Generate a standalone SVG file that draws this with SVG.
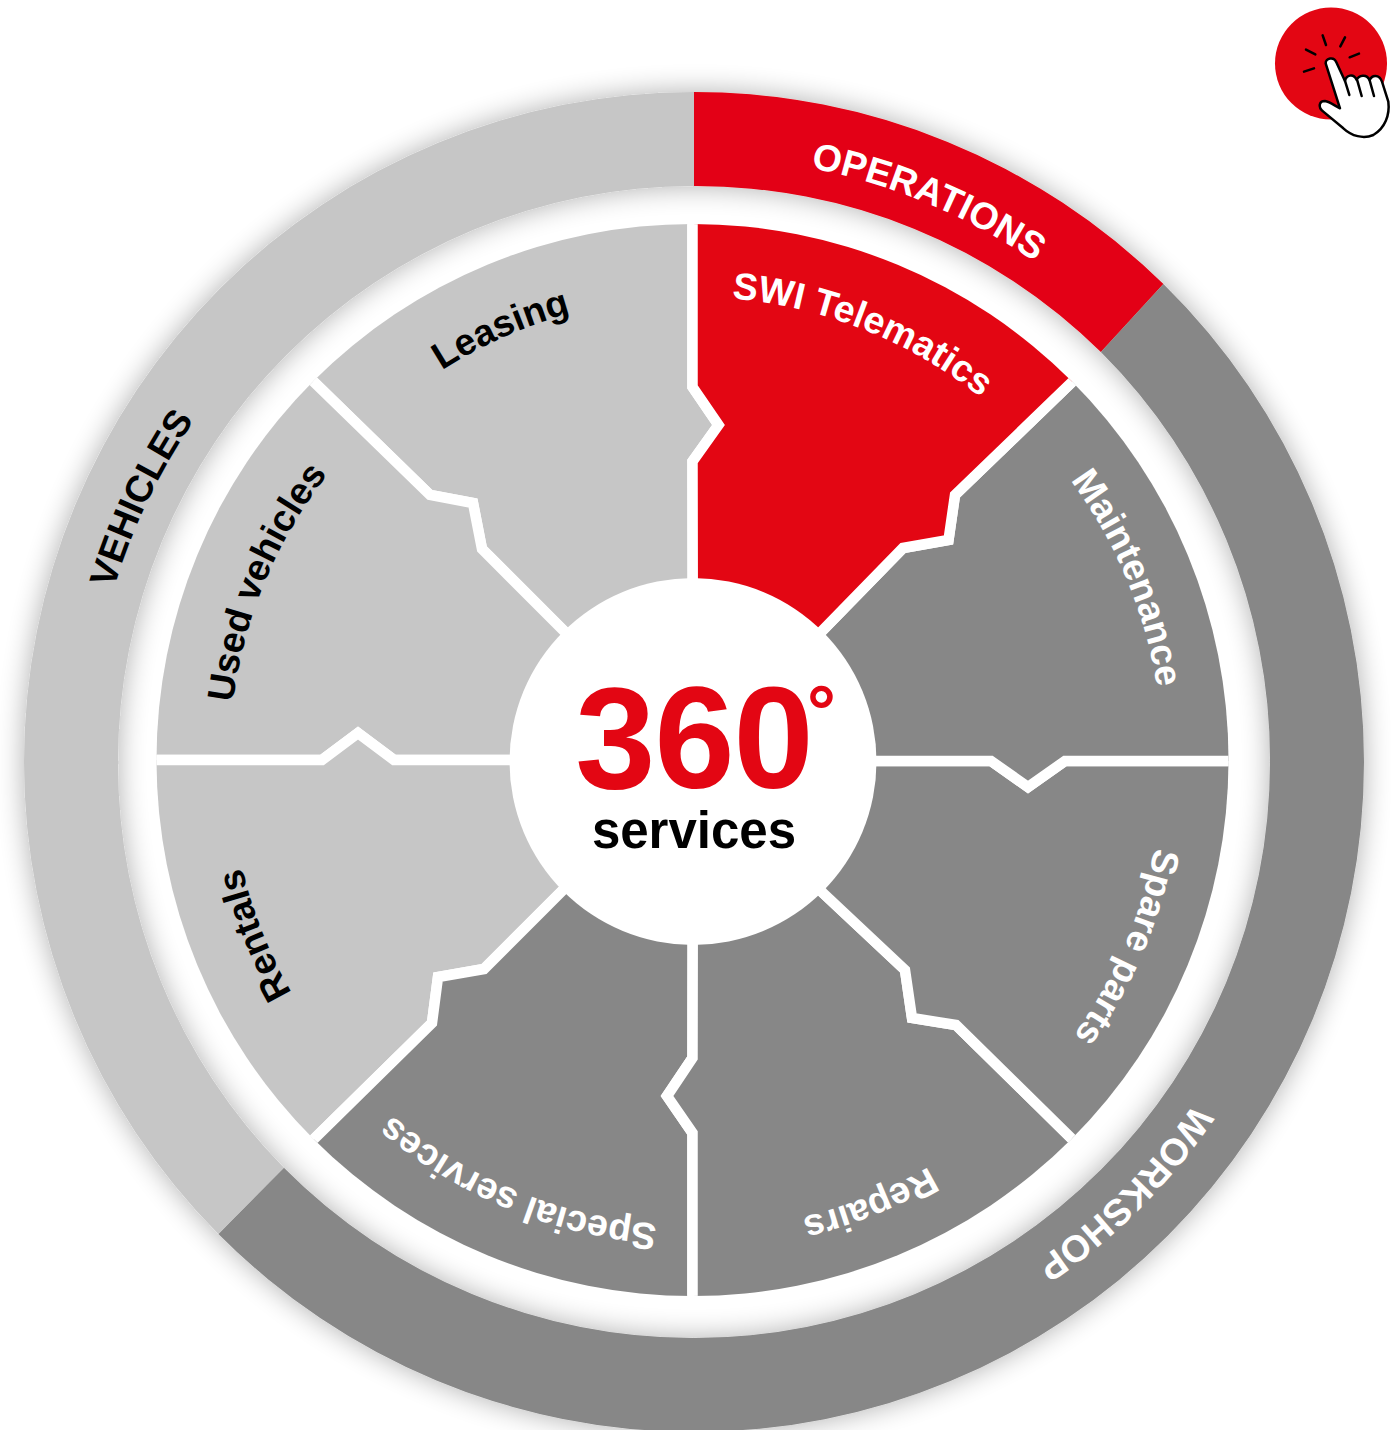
<svg xmlns="http://www.w3.org/2000/svg" width="1391" height="1430" viewBox="0 0 1391 1430">
<style>
.red{fill:#e30613}.dark{fill:#878787}.light{fill:#c6c6c6}
.seg{stroke:#fff;stroke-width:10.5;stroke-linejoin:miter;stroke-miterlimit:10}
text{font-family:"Liberation Sans",Arial,sans-serif;font-weight:700}
.ring{font-size:37.5px;text-anchor:middle}
.lab{font-size:37.5px;text-anchor:middle}
.w{fill:#fff}.k{fill:#000}
.hand{fill:#fff;stroke:#000;stroke-width:7.5;stroke-linejoin:round;stroke-linecap:round}
.ray{fill:none;stroke:#000;stroke-width:7.5;stroke-linecap:round}
</style>
<defs>
<filter id="sh" x="-10%" y="-10%" width="120%" height="120%"><feGaussianBlur in="SourceAlpha" stdDeviation="14"/><feComponentTransfer><feFuncA type="linear" slope="0.32"/></feComponentTransfer><feMerge><feMergeNode/><feMergeNode in="SourceGraphic"/></feMerge></filter>
<clipPath id="wheel"><circle cx="692.5" cy="760" r="536"/></clipPath>
<path id="rp" d="M98.1 657A605 605 0 0 1 1289.9 657"/>
<path id="wp" d="M236.5 679.6A463 463 0 0 1 1148.5 679.6"/>
<path id="wq" d="M229.6 678.4A470 470 0 0 1 1155.4 678.4"/>
<path id="ws" d="M234.5 679.2A465 465 0 0 1 1150.5 679.2"/>
</defs>
<rect width="1391" height="1430" fill="#fff"/>
<g id="outer-ring" filter="url(#sh)">
<path id="ring-operations" class="red" d="M694 92A670 670 0 0 1 1163.4 284.1L1100.9 352A576 576 0 0 0 694 186Z"/>
<path id="ring-workshop" class="dark" d="M1163.4 284.1A670 670 0 0 1 1364 762A670 670 0 0 1 694 1432A670 670 0 0 1 218.4 1234L283.9 1167.8A576 576 0 0 0 694 1338A576 576 0 0 0 1270 762A576 576 0 0 0 1100.9 352Z"/>
<path id="ring-vehicles" class="light" d="M218.4 1234A670 670 0 0 1 24 762A670 670 0 0 1 694 92L694 186A576 576 0 0 0 118 762A576 576 0 0 0 283.9 1167.8Z"/>
</g>
<g id="ring-labels">
<text class="ring w" transform="rotate(22.7 694 762)"><textPath href="#rp" startOffset="50%">OPERATIONS</textPath></text>
<text class="ring w" transform="rotate(135 694 762)"><textPath href="#rp" startOffset="50%">WORKSHOP</textPath></text>
<text class="ring k" transform="rotate(-64.5 694 762)"><textPath href="#rp" startOffset="50%">VEHICLES</textPath></text>
</g>
<g id="leasing" clip-path="url(#wheel)">
<path class="seg light" d="M692.5 190L265 190 265 333 315 383 430 495 473 503 482 549 563 630 693 760 692.5 461.5 718.5 425 692.5 387Z"/>
<text class="lab k" transform="rotate(-24 692.5 760)"><textPath href="#wp" startOffset="50%">Leasing</textPath></text>
</g>
<g id="used-vehicles" clip-path="url(#wheel)">
<path class="seg light" d="M265 333L315 383 430 495 473 503 482 549 563 630 693 760 510 760 394 760 358 733 322 760 125 760 125 333Z"/>
<text class="lab k" transform="rotate(-67.4 692.5 760)"><textPath href="#wp" startOffset="50%">Used vehicles</textPath></text>
</g>
<g id="rentals" clip-path="url(#wheel)">
<path class="seg light" d="M125 760L322 760 358 733 394 760 510 760 693 760 563 890 484 969 438 977 432 1023 315 1138 265 1188 125 1188Z"/>
<text class="lab k" transform="rotate(-111.8 692.5 760)"><textPath href="#wp" startOffset="50%">Rentals</textPath></text>
</g>
<g id="special-services" clip-path="url(#wheel)">
<path class="seg dark" d="M265 1188L315 1138 432 1023 438 977 484 969 563 890 693 760 692.5 1058 667 1096 692.5 1133 692.5 1330 265 1330Z"/>
<text class="lab w" transform="rotate(202.3 692.5 760)"><textPath href="#ws" startOffset="50%">Special services</textPath></text>
</g>
<g id="repairs" clip-path="url(#wheel)">
<path class="seg dark" d="M692.5 1330L692.5 1133 667 1096 692.5 1058 693 760 823 893 905 970 912 1018 956 1025 1071 1138 1121 1188 1121 1330Z"/>
<text class="lab w" transform="rotate(158.2 692.5 760)"><textPath href="#wq" startOffset="50%">Repairs</textPath></text>
</g>
<g id="spare-parts" clip-path="url(#wheel)">
<path class="seg dark" d="M1121 1188L1071 1138 956 1025 912 1018 905 970 823 893 693 760 876 761 991 761 1028 787 1065 761 1260 761 1260 1188Z"/>
<text class="lab w" transform="rotate(113.3 692.5 760)"><textPath href="#wq" startOffset="50%">Spare parts</textPath></text>
</g>
<g id="maintenance" clip-path="url(#wheel)">
<path class="seg dark" d="M1121 333L1071 383 955 495 948.5 540 903 548 823 630 693 760 876 761 991 761 1028 787 1065 761 1260 761 1260 333Z"/>
<text class="lab w" transform="rotate(67.3 692.5 760)"><textPath href="#wq" startOffset="50%">Maintenance</textPath></text>
</g>
<g id="swi-telematics" clip-path="url(#wheel)">
<path class="seg red" d="M692.5 190L1121 190 1121 333 1071 383 955 495 948.5 540 903 548 823 630 693 760 692.5 461.5 718.5 425 692.5 387Z"/>
<text class="lab w" transform="rotate(21.7 692.5 760)"><textPath href="#wp" startOffset="50%">SWI Telematics</textPath></text>
</g>
<g id="center">
<circle cx="693" cy="761.5" r="183.5" fill="#fff"/>
<text x="694" y="788" text-anchor="middle" font-size="144" fill="#e30613" letter-spacing="-1">360<tspan x="821.5" y="736" font-size="72" letter-spacing="0">°</tspan></text>
<text x="694" y="848" text-anchor="middle" font-size="51" fill="#000">services</text>
</g>
<g id="click-icon">
<circle cx="1331" cy="63.5" r="56" fill="#e30613"/>
<g transform="translate(1260 0) scale(.3333)">
<path class="hand" d="M197 190C196 175 222 168 229 187L255 243C258 226 280 218 290 240C296 226 320 220 329 241C335 224 358 222 366 245L385 305C390 345 375 385 340 405C310 418 275 408 250 385L190 335C172 320 178 303 195 303C210 305 225 318 240 325Z"/>
<path class="ray" d="M188 106L198 135M255 112L241 139M138 149L166 163M297 161L269 172M132 215L162 205M255 243L268 285M292 242L305 288M329 241L342 288"/>
</g>
</g>
</svg>
